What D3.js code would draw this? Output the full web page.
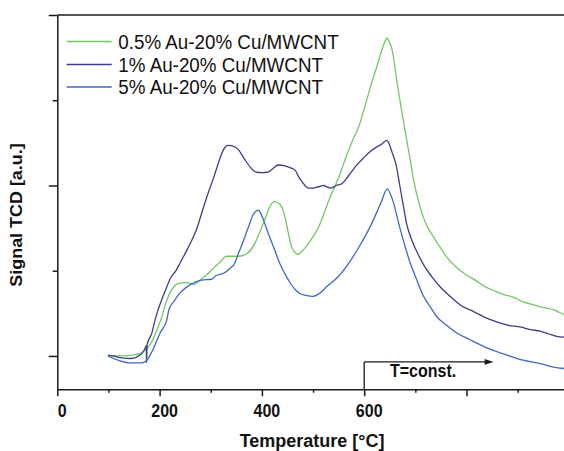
<!DOCTYPE html>
<html>
<head>
<meta charset="utf-8">
<script src="https://cdn.jsdelivr.net/npm/d3@7"></script>
<style>
body { margin: 0; background: #fff; }
svg { display: block; font-family: "Liberation Sans", Arial, sans-serif; }
</style>
</head>
<body>
<svg width="564" height="451"></svg>
<script>
// **** Data ****
var seriesNames = ["0.5% Au-20% Cu/MWCNT", "1% Au-20% Cu/MWCNT", "5% Au-20% Cu/MWCNT"];
var seriesColors = ["#72c763", "#3d3d8c", "#3e68c9"];

var tempGreen = [99,112,123,133,145,158,168,181,191,197,204,212,222,233,245,254,268,279,292,305,318,331,343,354,364,373,387,395,403,410,416,425,435,442,447,452,458,464,470,477,486,500,510,517,533,542,553,563,579,590,600,611,619,626,633,640,644,649,655,664,672,683,690,697,706,716,725,735,748,760,780,800,817,837,856,873,891,908,925,943,957,971,982,995];
var sigGreen  = [0.00,0.00,0.00,0.00,0.01,0.02,0.05,0.13,0.25,0.34,0.45,0.62,0.76,0.84,0.86,0.86,0.84,0.89,0.95,1.03,1.10,1.17,1.17,1.17,1.18,1.21,1.33,1.44,1.56,1.67,1.76,1.81,1.78,1.70,1.58,1.43,1.28,1.22,1.19,1.22,1.28,1.40,1.50,1.60,1.86,1.98,2.14,2.31,2.55,2.70,2.90,3.13,3.29,3.42,3.56,3.68,3.73,3.69,3.58,3.22,2.92,2.54,2.30,2.05,1.82,1.62,1.50,1.40,1.28,1.17,1.04,0.95,0.89,0.81,0.76,0.72,0.69,0.64,0.61,0.58,0.56,0.54,0.51,0.48];

var tempDark = [99,110,123,145,162,170,174,174.5,175.5,185,191,197,212,222,233,240,254,272,285,296,305,317,325,334,345,354,366,378,387,400,413,422,432,445,455,465,472,479,491,500,507,514,521,528,535,545,556,570,584,598,612,624,633,644,650,655,662,669,676,683,693,704,718,732,750,768,790,814,837,859,882,905,925,944,960,976,995];
var sigDark  = [0.01,0.00,-0.02,-0.03,0.01,0.07,0.12,-0.08,0.13,0.27,0.42,0.54,0.78,0.92,1.01,1.09,1.25,1.48,1.73,1.93,2.08,2.30,2.42,2.47,2.46,2.42,2.31,2.21,2.16,2.15,2.16,2.20,2.24,2.23,2.21,2.18,2.10,2.04,1.97,1.97,1.98,1.99,2.00,1.98,1.97,2.00,2.02,2.12,2.23,2.32,2.40,2.45,2.48,2.53,2.47,2.38,2.25,2.02,1.78,1.55,1.36,1.21,1.05,0.93,0.80,0.70,0.59,0.52,0.45,0.40,0.36,0.34,0.31,0.29,0.26,0.23,0.22];

var tempBlue = [99,119,142,165,175,185,201,214,218,229,240,261,282,302,310,325,338,347,352,360,373,383,389,393,398,404,410,416,424,432,440,448,456,465,475,486,500,514,528,549,570,591,612,633,645,655,669,690,703,716,732,742,761,781,807,846,879,911,944,970,995];
var sigBlue  = [0.00,-0.05,-0.08,-0.08,-0.05,0.05,0.27,0.42,0.54,0.65,0.74,0.84,0.89,0.90,0.94,0.97,1.03,1.09,1.17,1.29,1.50,1.66,1.70,1.71,1.67,1.58,1.48,1.38,1.26,1.13,1.02,0.93,0.85,0.78,0.73,0.71,0.70,0.74,0.82,0.93,1.09,1.29,1.52,1.80,1.96,1.84,1.52,1.09,0.89,0.70,0.55,0.46,0.36,0.27,0.19,0.08,0.01,-0.05,-0.09,-0.13,-0.15];

var xTicks = [0,100,200,300,400,500,600,700,800,900,1000];
var xTickLabels = ["0","200","400","600"];
var yTicks = [0,1,2,3,4];

var allTemps = [tempGreen, tempDark, tempBlue];
var allSigs = [sigGreen, sigDark, sigBlue];

// the original figure is a bit stretched vertically, so texts get this
var stretch = 'scale(1,1.1)';

// **** Scales and axes ****
var x = d3.scaleLinear().domain([0,1000]).range([57.3,568.8]);
var y = d3.scaleLinear().domain([-0.39,4]).range([389.2,15]);

var svg = d3.select('svg');

var xAxis = svg.append('g').attr('class', 'x axis')
    .attr('transform', 'translate(0,' + y(-0.39) + ')')
    .call(d3.axisBottom(x).tickValues(xTicks).tickSizeOuter(0)
        .tickFormat(function(d){ return xTickLabels.indexOf(String(d)) >= 0 ? d : ""; }));
xAxis.selectAll('.tick line').attr('y2', function(d){ return d % 200 == 0 ? 7 : 3.5; });
xAxis.selectAll('.tick text')
    .attr('y', 13.6).attr('dx', 4.5)
    .attr('transform', stretch)
    .style('font-size', '16px').style('font-weight', 'bold').attr('fill', '#111');

var yAxis = svg.append('g').attr('class', 'y axis')
    .attr('transform', 'translate(' + x(0) + ',0)')
    .call(d3.axisLeft(y).tickValues(yTicks).tickSizeOuter(0).tickFormat(""));
yAxis.selectAll('.tick line').attr('x2', function(d){ return d % 2 == 0 ? -8.5 : -4.6; });

svg.selectAll('.axis path, .axis line')
    .attr('stroke', '#1a1a1a').attr('stroke-width', 1.5);

// top frame line
svg.append('line')
    .attr('x1', x(0)).attr('x2', 564)
    .attr('y1', y(4)).attr('y2', y(4))
    .attr('stroke', '#1a1a1a').attr('stroke-width', 1.5);

svg.append('text')
    .attr('transform', 'translate(21.5,215) ' + stretch + ' rotate(-90)')
    .attr('text-anchor', 'middle')
    .style('font-size', '16.3px').style('font-weight', 'bold')
    .attr('fill', '#111')
    .text('Signal TCD [a.u.]');

svg.append('text')
    .attr('transform', 'translate(312,447) scale(1,1.05)')
    .attr('text-anchor', 'middle')
    .style('font-size', '18px').style('font-weight', 'bold')
    .attr('fill', '#111')
    .text('Temperature [°C]');

// **** Curves ****
var line = d3.line()
    .x(function(d){ return x(d[0]); })
    .y(function(d){ return y(d[1]); })
    .curve(d3.curveMonotoneX);

for (var i = 0; i < 3; i++) {
    var pts = allTemps[i].map(function(t, j){ return [t, allSigs[i][j]]; });
    svg.append('path')
        .datum(pts)
        .attr('d', line)
        .attr('fill', 'none')
        .attr('stroke', seriesColors[i])
        .attr('stroke-width', 1.3);
}

// **** T=const. annotation ****
var arrowY = y(-0.07);
svg.append('line')
    .attr('x1', x(600)).attr('x2', x(600))
    .attr('y1', y(-0.39)).attr('y2', arrowY)
    .attr('stroke', '#1a1a1a').attr('stroke-width', 1.3);
svg.append('line')
    .attr('x1', x(600)).attr('x2', x(846))
    .attr('y1', arrowY).attr('y2', arrowY)
    .attr('stroke', '#1a1a1a').attr('stroke-width', 1.3);
svg.append('path')
    .attr('d', 'M' + x(853) + ',' + arrowY + 'l-9,-2.8v5.6z')
    .attr('fill', '#1a1a1a');
svg.append('text')
    .attr('transform', 'translate(390,377.3) ' + stretch)
    .style('font-size', '16px').style('font-weight', 'bold')
    .attr('fill', '#111')
    .text('T=const.');

// **** Legend ****
var legendY = [41.5, 64.5, 87];
var legend = svg.selectAll('.legend')
    .data(seriesNames)
    .enter()
    .append('g')
    .attr('class', 'legend')
    .attr('transform', function(d, i){ return 'translate(0,' + legendY[i] + ')'; });
legend.append('line')
    .attr('x1', 66.7).attr('x2', 111.7)
    .attr('stroke', function(d, i){ return seriesColors[i]; })
    .attr('stroke-width', 1.3);
legend.append('text')
    .attr('transform', 'translate(118.3,0) ' + stretch)
    .attr('dy', '0.36em')
    .style('font-size', '18.8px')
    .attr('fill', '#111')
    .text(function(d){ return d; });
</script>
</body>
</html>
